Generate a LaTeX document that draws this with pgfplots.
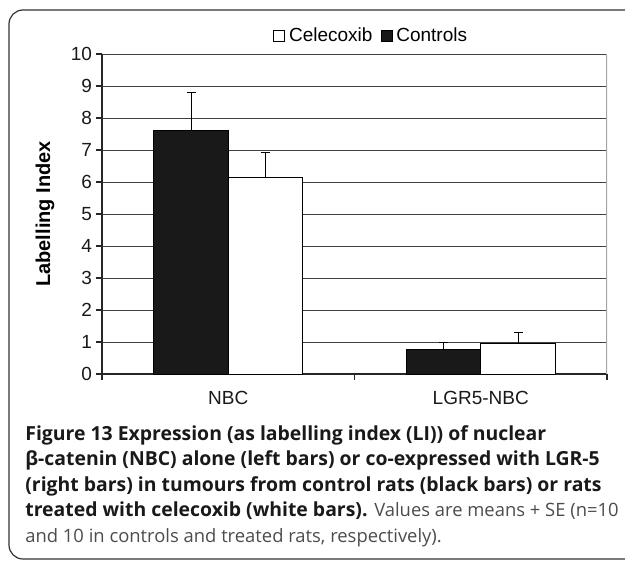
\documentclass[border=0pt]{standalone}
\usepackage{pgfplots}
\pgfplotsset{compat=1.18}
\usepackage{fontspec}
\setmainfont{Liberation Sans}
\newfontfamily\capfont{Open Sans}

\begin{document}
\begin{tikzpicture}
% page frame: 625 x 562 px, 1 px = 0.5pt
\useasboundingbox (0pt,0pt) rectangle (312.5pt,-281pt);
\begin{scope}[x=0.5pt,y=-0.5pt]
  \clip (0,0) rectangle (625,562);
  \draw[black!80, line width=0.6pt, rounded corners=7pt] (9,10) rectangle (680,559);
\end{scope}

\begin{axis}[
    at={(51pt,-27pt)}, anchor=north west,
    scale only axis,
    width=252.5pt, height=160pt,
    xmin=0, xmax=2, ymin=0, ymax=10,
    axis x line*=bottom, axis y line*=left,
    axis line style={black!85, line width=0.6pt},
    ybar,
    bar width=0.295,
    ytick={0,1,...,10},
    ymajorgrids,
    grid style={black!75, line width=0.5pt},
    tick align=outside,
    major tick length=3pt,
    tick style={black!85, line width=0.6pt},
    /pgf/number format/assume math mode=true,
    xtick={0,1,2}, xticklabels={},
    extra x ticks={0.5,1.5},
    extra x tick labels={NBC,LGR5-NBC},
    extra x tick style={major tick length=0pt, grid=none, tick label style={yshift=-5pt}},
    ticklabel style={font=\fontsize{9.5}{11}\selectfont, text=black!90},
    yticklabel style={xshift=1.5pt},
    ylabel={\bfseries Labelling Index},
    every axis y label/.style={at={(axis description cs:0,0.5)}, xshift=-28.5pt, rotate=90, anchor=center, font=\fontsize{10}{12}\selectfont},
    legend style={at={(axis description cs:0.535,1.056)}, anchor=center, draw=none, fill=none,
        legend columns=-1, font=\fontsize{9.5}{11}\selectfont,
        nodes={inner xsep=2pt},
        /tikz/every even column/.append style={column sep=2pt}},
    legend image code/.code={\draw[#1, line width=0.4pt] (0pt,-2.75pt) rectangle (5.5pt,2.75pt);},
    error bars/y dir=plus,
    error bars/y explicit,
    error bars/error bar style={black, line width=0.5pt},
    error bars/error mark options={black, line width=0.5pt, mark size=2.25pt, rotate=90},
]
\draw[black!35, line width=0.6pt] (rel axis cs:1,0) -- (rel axis cs:1,1);

\addplot[bar shift=0.1475, fill=white, draw=black, line width=0.4pt]
  coordinates {(0.5,6.15) +- (0,0.77) (1.5,0.96) +- (0,0.34)};
\addlegendentry{Celecoxib}

\addplot[bar shift=-0.1475, fill=black!90, draw=black, line width=0.4pt]
  coordinates {(0.5,7.61) +- (0,1.20) (1.5,0.78) +- (0,0.20)};
\addlegendentry{Controls}
\end{axis}

\begin{scope}[x=0.5pt,y=-0.5pt, every node/.style={anchor=base west, inner sep=0pt}]
  \capfont
  \node[text=black!90, font=\fontsize{9.7}{12}\selectfont\bfseries] at (25,440) {Figure 13 Expression (as labelling index (LI)) of nuclear};
  \node[text=black!90, font=\fontsize{9.7}{12}\selectfont\bfseries] at (25,465.5) {β-catenin (NBC) alone (left bars) or co-expressed with LGR-5};
  \node[text=black!90, font=\fontsize{9.7}{12}\selectfont\bfseries] at (25,491) {(right bars) in tumours from control rats (black bars) or rats};
  \node[text=black!90, font=\fontsize{9.7}{12}\selectfont] at (25,516.5) {\textbf{treated with celecoxib (white bars).} \fontsize{9.2}{12}\selectfont\textcolor{black!70}{Values are means + SE (n=10}};
  \node[text=black!70, font=\fontsize{9.2}{12}\selectfont] at (25,542) {and 10 in controls and treated rats, respectively).};
\end{scope}
\end{tikzpicture}
\end{document}
